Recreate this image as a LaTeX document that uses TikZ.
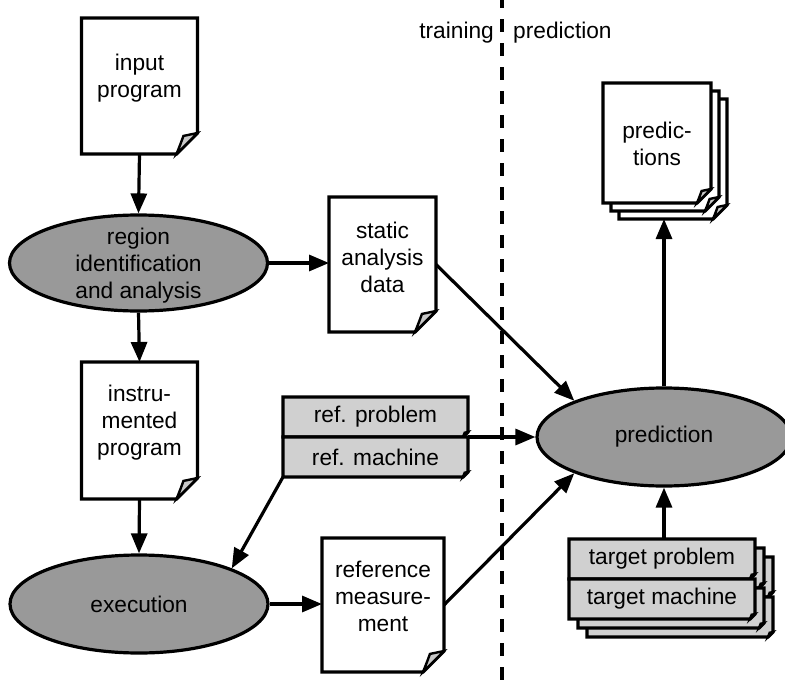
\documentclass[tikz,border=0pt]{standalone}
\usepackage{fontspec}
\setmainfont{Liberation Sans}
\usetikzlibrary{arrows.meta,shapes.geometric}

\definecolor{ovalgray}{RGB}{153,153,153}
\definecolor{cardgray}{RGB}{208,208,208}
\definecolor{flapgray}{RGB}{200,200,200}

\tikzset{
  lbl/.style={font=\fontsize{22.7}{27}\selectfont, align=center, inner sep=0pt},
  frame/.style={rectangle, inner sep=0pt, outer sep=0pt},
  edge/.style={line width=3.2pt, line join=miter},
  oval/.style={ellipse, draw, edge, fill=ovalgray, inner sep=0pt},
  arr/.style={line width=3.2pt, -{Triangle[length=20pt,width=16pt]}},
  divider/.style={line width=3.4pt, dash pattern=on 13pt off 11pt, dash phase=5pt}
}

% sheet with a folded bottom-right corner: #1 node, #2 fold size, #3 sheet fill, #4 flap fill
\newcommand\paperdoc[4]{%
  \filldraw[edge, fill=#3] (#1.north west) -- (#1.north east)
    -- ([yshift=#2]#1.south east) -- ([xshift=-#2]#1.south east)
    -- (#1.south west) -- cycle;
  \filldraw[edge, line width=2.4pt, fill=#4] ([xshift=-#2]#1.south east)
    .. controls ([xshift=-0.8*#2, yshift=0.5*#2]#1.south east)
    .. ([xshift=-0.67*#2, yshift=0.86*#2]#1.south east)
    -- ([yshift=#2]#1.south east) -- cycle;}

\begin{document}
\begin{tikzpicture}[x=1pt,y=-1pt]
\useasboundingbox (0,0) rectangle (785,680);

% training / prediction divider
\coordinate (divtop) at (502,0);
\coordinate (divbot) at (502,680);
\draw[divider] (divtop) -- (divbot);
\node[lbl, anchor=east] (trainlbl) at (494,33) {training};
\node[lbl, anchor=west] (predlbl) at (513,33) {prediction};

% document frames
\node[frame, minimum width=116, minimum height=136] (inprog) at (139.5,86) {};
\node[frame, minimum width=107, minimum height=135] (static) at (382.5,264.5) {};
\node[frame, minimum width=116, minimum height=137] (instr) at (139.5,430.5) {};
\node[frame, minimum width=122, minimum height=134] (refmeas) at (383,605) {};
\node[frame, minimum width=108, minimum height=120] (predsC) at (673,159) {};
\node[frame, minimum width=108, minimum height=120] (predsB) at (665,151) {};
\node[frame, minimum width=108, minimum height=120] (preds) at (657,143) {};

\paperdoc{inprog}{21}{white}{flapgray}
\paperdoc{static}{21}{white}{flapgray}
\paperdoc{instr}{21}{white}{flapgray}
\paperdoc{refmeas}{21}{white}{flapgray}
\paperdoc{predsC}{14}{white}{flapgray}
\paperdoc{predsB}{14}{white}{flapgray}
\paperdoc{preds}{14}{white}{flapgray}

\node[lbl] (inprogtxt) at (139.5,78.5) {input\\program};
\node[lbl] (statictxt) at (382.5,257) {static\\analysis\\data};
\node[lbl] (instrtxt) at (139.5,423) {instru-\\mented\\program};
\node[lbl] (refmeastxt) at (383,596) {reference\\measure-\\ment};
\node[lbl] (predstxt) at (657,143.5) {predic-\\tions};

% reference problem / machine cards
\node[frame, minimum width=185, minimum height=40] (refprob) at (375.5,417) {};
\node[frame, minimum width=185, minimum height=40] (refmach) at (375.5,457) {};
\paperdoc{refprob}{5}{cardgray}{black}
\paperdoc{refmach}{5}{cardgray}{black}
\node[lbl] (refprobtxt) at (refprob) {ref. problem};
\node[lbl] (refmachtxt) at (refmach) {ref. machine};

% target problem / machine cards, stacked
\node[frame, minimum width=186, minimum height=40] (tprobC) at (680,577) {};
\node[frame, minimum width=186, minimum height=40] (tmachC) at (680,617) {};
\node[frame, minimum width=186, minimum height=40] (tprobB) at (671,568) {};
\node[frame, minimum width=186, minimum height=40] (tmachB) at (671,608) {};
\node[frame, minimum width=186, minimum height=40] (tprob) at (662,559) {};
\node[frame, minimum width=186, minimum height=40] (tmach) at (662,599) {};
\paperdoc{tprobC}{5}{cardgray}{black}
\paperdoc{tmachC}{5}{cardgray}{black}
\paperdoc{tprobB}{5}{cardgray}{black}
\paperdoc{tmachB}{5}{cardgray}{black}
\paperdoc{tprob}{5}{cardgray}{black}
\paperdoc{tmach}{5}{cardgray}{black}
\node[lbl] (tprobtxt) at (tprob) {target problem};
\node[lbl] (tmachtxt) at (tmach) {target machine};

% processing steps
\node[oval, minimum width=258, minimum height=96] (region) at (138.5,263) {};
\node[lbl] (regiontxt) at (138.5,266) {region\\identification\\and analysis};
\node[oval, minimum width=258, minimum height=98] (exec) at (139,604) {};
\node[lbl] (exectxt) at (exec) {execution};
\node[oval, minimum width=254, minimum height=98] (pred) at (664,437) {};
\node[lbl] (predtxt) at (pred) {prediction};

% connectors
\draw[arr] (inprog.south) -- (region.north);
\draw[arr] (region.east) -- (region.east -| static.west);
\draw[arr] (region.south) -- (instr.north);
\draw[arr] (instr.south) -- (exec.north);
\draw[arr] (exec.east) -- (exec.east -| refmeas.west);
\draw[arr] (static.east) -- (pred.158);
\draw[arr] (refmeas.east) -- (pred.202);
\draw[arr] (refprob.south east) -- (pred.west);
\draw[arr] (refmach.south west) -- (exec.21);
\draw[arr] (pred.north) -- (pred.north |- predsC.south);
\draw[arr] (pred.south |- tprob.north) -- (pred.south);
\end{tikzpicture}
\end{document}
